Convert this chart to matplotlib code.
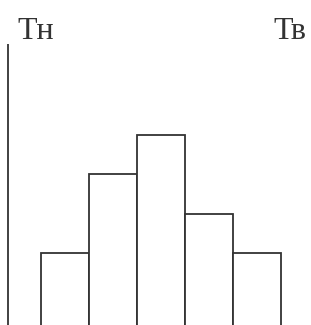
import matplotlib
matplotlib.use("Agg")
import matplotlib.pyplot as plt

# histogram bins and counts
bins = [1, 2, 3, 4, 5]
counts = [2, 4, 5, 3, 2]
labels = ["Тн", "Тв"]

LINE = "#333333"

fig = plt.figure(figsize=(3.11, 3.25), dpi=100)
ax = fig.add_axes([0, 0, 1, 1])
ax.set_xlim(-0.354, 6.125)
ax.set_ylim(0.18, 8.405)
ax.axis("off")

# bars start below the visible area so no bottom edge shows
ax.bar(bins, [c + 0.5 for c in counts], width=1.0, bottom=-0.5,
       color="white", edgecolor=LINE, linewidth=1.3)

# left axis line
ax.vlines(-0.19, 0, 7.3, color=LINE, linewidth=1.3)

ax.text(0.0, 7.43, labels[0], fontsize=23, family="Liberation Serif",
        color="#333333", ha="left", va="baseline")
ax.text(6.02, 7.43, labels[1], fontsize=23, family="Liberation Serif",
        color="#333333", ha="right", va="baseline")

fig.savefig("out.png", dpi=100, facecolor="white")
